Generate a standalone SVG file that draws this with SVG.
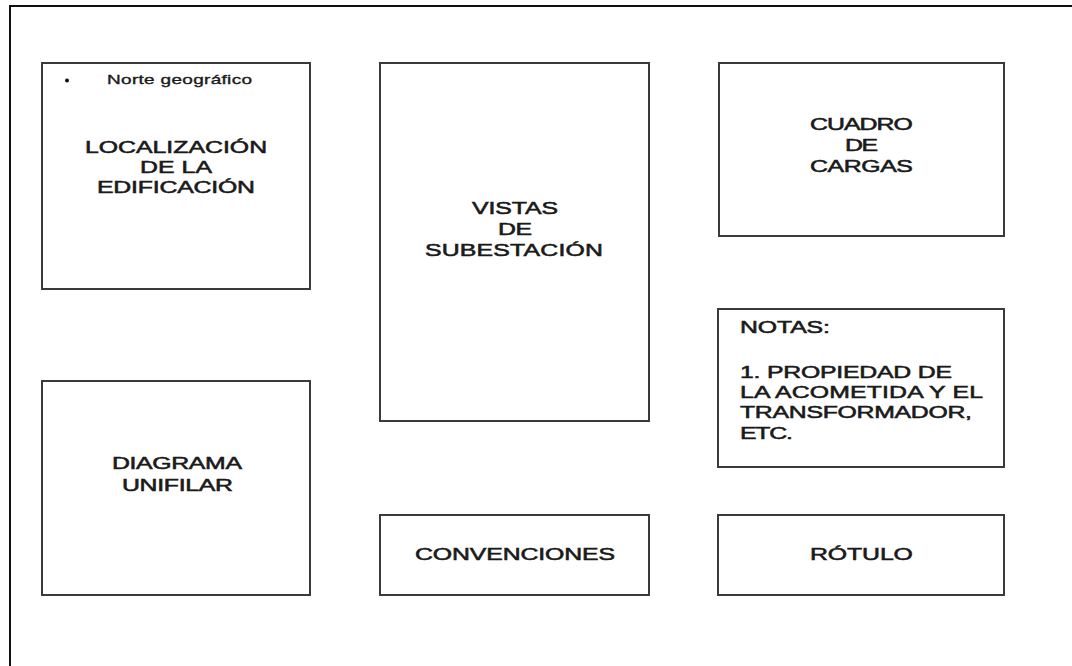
<svg xmlns="http://www.w3.org/2000/svg" width="1072" height="666" viewBox="0 0 1072 666">
<style>
.box{fill:#fff;stroke:#3a3a3a;stroke-width:2}
.frame{fill:none;stroke:#111;stroke-width:2}
text{font-family:"Liberation Sans",Arial,sans-serif;font-size:17px;fill:#1a1a1a;stroke:#1a1a1a;stroke-width:0.55}
.small{font-size:13px;stroke-width:0.35}
</style>
<rect width="1072" height="666" fill="#fff"/>
<rect class="frame" x="10" y="6" width="1080" height="680"/>
<g id="localizacion">
<rect class="box" x="42" y="63" width="268" height="226"/>
<circle cx="67" cy="80.5" r="2" fill="#111"/>
<text class="small" transform="translate(107,84) scale(1.46,1)" textLength="99.3">Norte geográfico</text>
<text transform="translate(85,153) scale(1.46,1)" textLength="124.7">LOCALIZACIÓN</text>
<text transform="translate(140,173) scale(1.46,1)" textLength="49.3">DE LA</text>
<text transform="translate(97,193) scale(1.46,1)" textLength="108.2">EDIFICACIÓN</text>
</g>
<g id="vistas">
<rect class="box" x="380" y="63" width="269" height="358"/>
<text transform="translate(472,214) scale(1.46,1)" textLength="58.9">VISTAS</text>
<text transform="translate(498,235) scale(1.46,1)" textLength="23.3">DE</text>
<text transform="translate(425,256) scale(1.46,1)" textLength="121.9">SUBESTACIÓN</text>
</g>
<g id="cuadro">
<rect class="box" x="719" y="63" width="285" height="173"/>
<text transform="translate(810,130) scale(1.46,1)" textLength="70.5">CUADRO</text>
<text transform="translate(845,151) scale(1.46,1)" textLength="22.6">DE</text>
<text transform="translate(810,172) scale(1.46,1)" textLength="70.5">CARGAS</text>
</g>
<g id="notas">
<rect class="box" x="718" y="309" width="286" height="158"/>
<text transform="translate(740,333) scale(1.46,1)" textLength="61.6">NOTAS:</text>
<text transform="translate(740,378) scale(1.46,1)" textLength="145.2">1. PROPIEDAD DE</text>
<text transform="translate(740,398) scale(1.46,1)" textLength="166.4">LA ACOMETIDA Y EL</text>
<text transform="translate(740,418) scale(1.46,1)" textLength="158.9">TRANSFORMADOR,</text>
<text transform="translate(740,439) scale(1.46,1)" textLength="36.3">ETC.</text>
</g>
<g id="diagrama">
<rect class="box" x="42" y="381" width="268" height="214"/>
<text transform="translate(112,469) scale(1.46,1)" textLength="89">DIAGRAMA</text>
<text transform="translate(122,491) scale(1.46,1)" textLength="76">UNIFILAR</text>
</g>
<g id="convenciones">
<rect class="box" x="380" y="515" width="269" height="80"/>
<text transform="translate(415,560) scale(1.46,1)" textLength="137">CONVENCIONES</text>
</g>
<g id="rotulo">
<rect class="box" x="718" y="515" width="286" height="80"/>
<text transform="translate(810,560) scale(1.46,1)" textLength="70.5">RÓTULO</text>
</g>
<g id="connectors"/>
</svg>
